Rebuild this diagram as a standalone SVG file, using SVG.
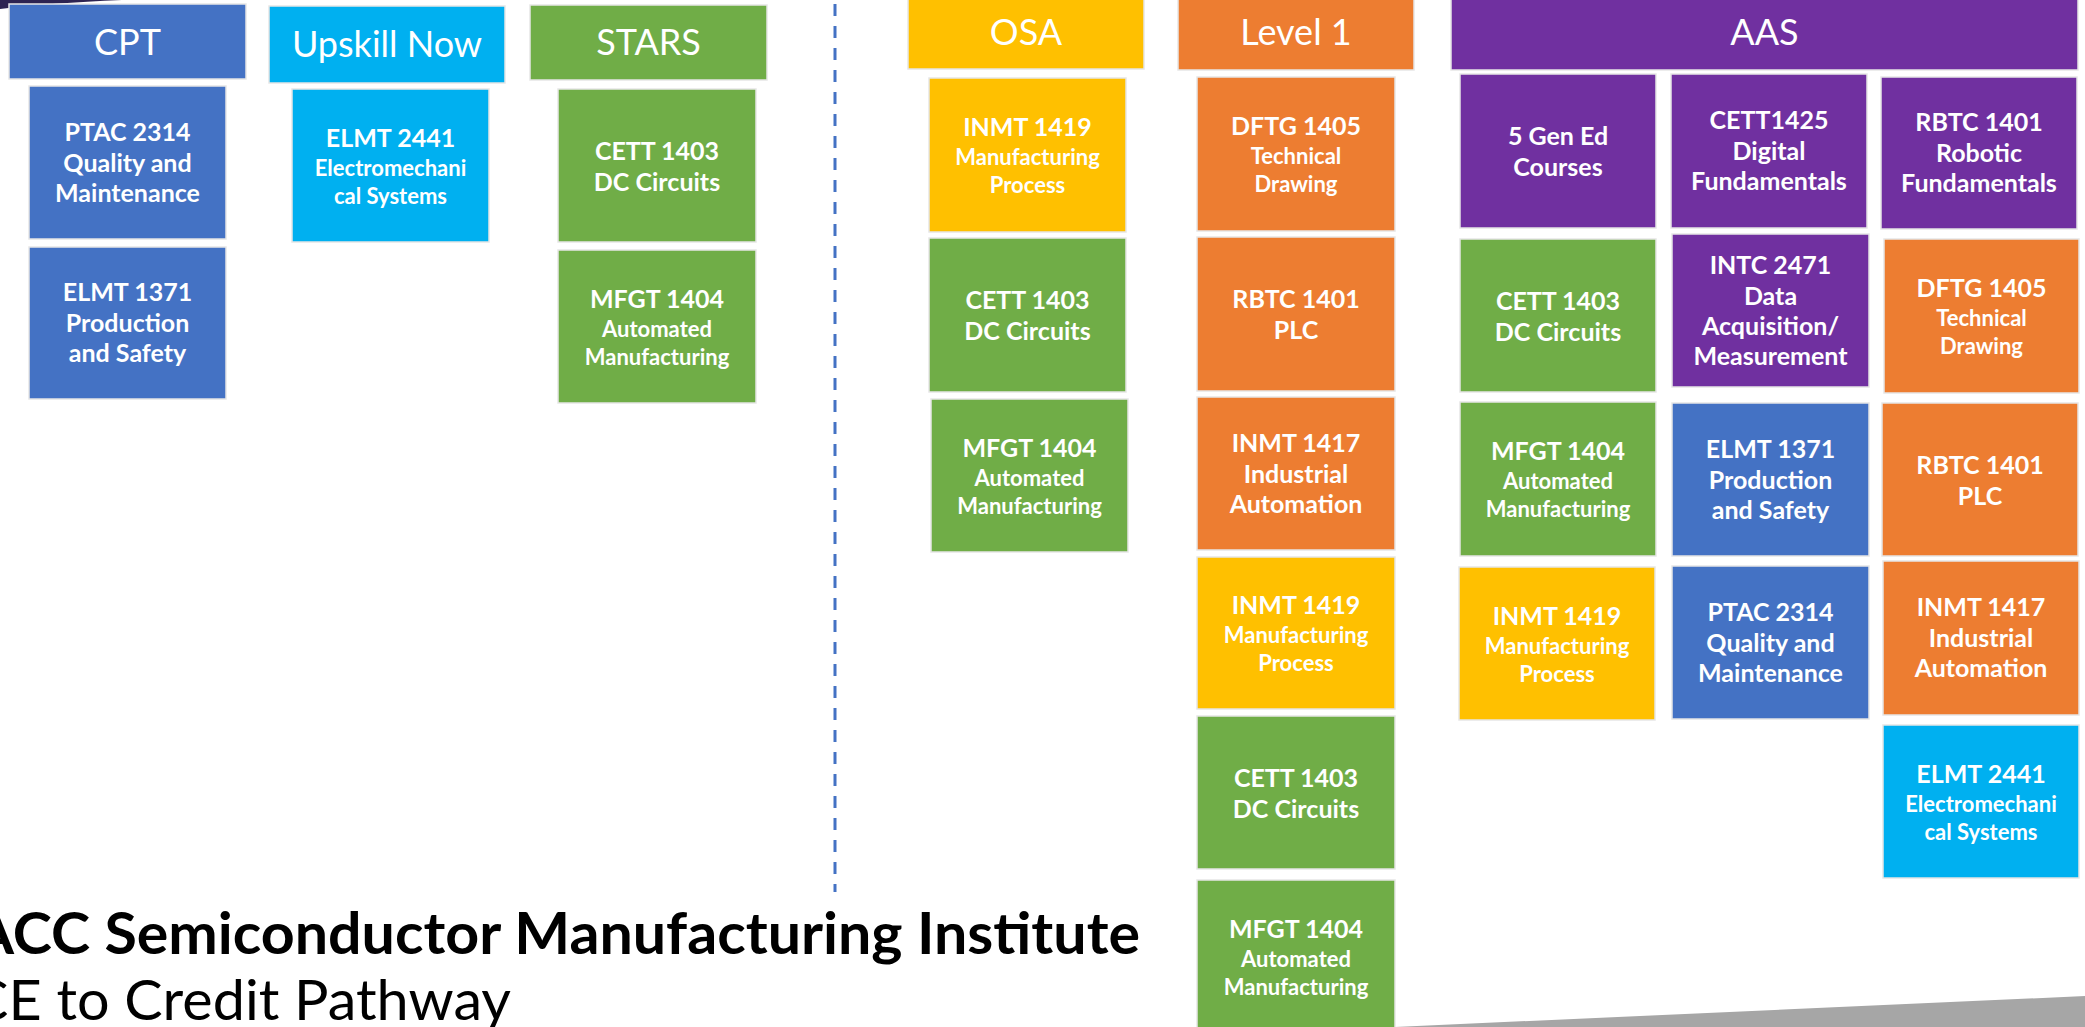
<svg xmlns="http://www.w3.org/2000/svg" width="2085" height="1027" viewBox="0 0 2085 1027">
<style>
rect.box{stroke:#e6e6e6;stroke-width:1.5}
.blue{fill:#4472C4}.cyan{fill:#00B0F0}.green{fill:#70AD47}.yellow{fill:#FFC000}.orange{fill:#ED7D31}.purple{fill:#7030A0}
text{font-family:Lato,"Liberation Sans",sans-serif;fill:#fff;text-anchor:middle}
.b{font-size:25px;font-weight:700}
.s{font-size:22px;font-weight:700}
.h{font-size:36px;font-weight:400}
.title{fill:#000;text-anchor:start}
</style>
<rect x="0" y="0" width="2085" height="1027" fill="#ffffff"/>
<path d="M0,0 L122,0 Q50,3 0,9 Z" fill="#2E2452"/>
<polygon points="1395,1027 2085,996 2085,1027" fill="#A6A6A6"/>
<g id="connectors">
<line x1="835" y1="4" x2="835" y2="892" stroke="#4472C4" stroke-width="3" stroke-dasharray="12 10"/>
</g>
<g id="hdr-cpt"><rect class="box blue" x="9" y="4" width="237" height="75"/><text class="h" x="127.5" y="55">CPT</text></g>
<g id="hdr-upskill"><rect class="box cyan" x="269" y="6" width="236" height="77"/><text class="h" x="387" y="57">Upskill Now</text></g>
<g id="hdr-stars"><rect class="box green" x="530" y="5" width="237" height="75"/><text class="h" x="648.5" y="55">STARS</text></g>
<g id="hdr-osa"><rect class="box yellow" x="908" y="-2" width="236" height="71"/><text class="h" x="1026" y="45">OSA</text></g>
<g id="hdr-level1"><rect class="box orange" x="1178" y="-2" width="236" height="72"/><text class="h" x="1296" y="45">Level 1</text></g>
<g id="hdr-aas"><rect class="box purple" x="1451" y="-2" width="627" height="72"/><text class="h" x="1764.5" y="45">AAS</text></g>

<g id="cpt-ptac"><rect class="box blue" x="29" y="86" width="197" height="153"/><text class="b" x="127.5" y="140.5">PTAC 2314</text><text class="b" x="127.5" y="171.5">Quality and</text><text class="b" x="127.5" y="201.5">Maintenance</text></g>
<g id="cpt-elmt1371"><rect class="box blue" x="29" y="247" width="197" height="152"/><text class="b" x="127.5" y="301">ELMT 1371</text><text class="b" x="127.5" y="332">Production</text><text class="b" x="127.5" y="362">and Safety</text></g>
<g id="up-elmt2441"><rect class="box cyan" x="292" y="89" width="197" height="153"/><text class="b" x="390.5" y="146.5">ELMT 2441</text><text class="s" x="390.5" y="175.5">Electromechani</text><text class="s" x="390.5" y="203.5">cal Systems</text></g>
<g id="stars-cett"><rect class="box green" x="558" y="89" width="198" height="153"/><text class="b" x="657" y="159.5">CETT 1403</text><text class="b" x="657" y="190.5">DC Circuits</text></g>
<g id="stars-mfgt"><rect class="box green" x="558" y="250" width="198" height="153"/><text class="b" x="657" y="307.5">MFGT 1404</text><text class="s" x="657" y="336.5">Automated</text><text class="s" x="657" y="364.5">Manufacturing</text></g>

<g id="osa-inmt1419"><rect class="box yellow" x="929" y="78" width="197" height="154"/><text class="b" x="1027.5" y="136">INMT 1419</text><text class="s" x="1027.5" y="165">Manufacturing</text><text class="s" x="1027.5" y="193">Process</text></g>
<g id="osa-cett"><rect class="box green" x="929" y="238" width="197" height="154"/><text class="b" x="1027.5" y="309">CETT 1403</text><text class="b" x="1027.5" y="340">DC Circuits</text></g>
<g id="osa-mfgt"><rect class="box green" x="931" y="399" width="197" height="153"/><text class="b" x="1029.5" y="456.5">MFGT 1404</text><text class="s" x="1029.5" y="485.5">Automated</text><text class="s" x="1029.5" y="513.5">Manufacturing</text></g>

<g id="l1-dftg"><rect class="box orange" x="1197" y="77" width="198" height="154"/><text class="b" x="1296" y="135">DFTG 1405</text><text class="s" x="1296" y="164">Technical</text><text class="s" x="1296" y="192">Drawing</text></g>
<g id="l1-rbtc"><rect class="box orange" x="1197" y="237" width="198" height="154"/><text class="b" x="1296" y="308">RBTC 1401</text><text class="b" x="1296" y="339">PLC</text></g>
<g id="l1-inmt1417"><rect class="box orange" x="1197" y="397" width="198" height="153"/><text class="b" x="1296" y="451.5">INMT 1417</text><text class="b" x="1296" y="482.5">Industrial</text><text class="b" x="1296" y="512.5">Automation</text></g>
<g id="l1-inmt1419"><rect class="box yellow" x="1197" y="557" width="198" height="152"/><text class="b" x="1296" y="614">INMT 1419</text><text class="s" x="1296" y="643">Manufacturing</text><text class="s" x="1296" y="671">Process</text></g>
<g id="l1-cett"><rect class="box green" x="1197" y="716" width="198" height="153"/><text class="b" x="1296" y="786.5">CETT 1403</text><text class="b" x="1296" y="817.5">DC Circuits</text></g>
<g id="l1-mfgt"><rect class="box green" x="1197" y="880" width="198" height="153"/><text class="b" x="1296" y="937.5">MFGT 1404</text><text class="s" x="1296" y="966.5">Automated</text><text class="s" x="1296" y="994.5">Manufacturing</text></g>

<g id="aas-gened"><rect class="box purple" x="1460" y="74" width="196" height="154"/><text class="b" x="1558" y="145">5 Gen Ed</text><text class="b" x="1558" y="176">Courses</text></g>
<g id="aas-cett1425"><rect class="box purple" x="1671" y="74" width="196" height="154"/><text class="b" x="1769" y="129">CETT1425</text><text class="b" x="1769" y="160">Digital</text><text class="b" x="1769" y="190">Fundamentals</text></g>
<g id="aas-rbtc-robotic"><rect class="box purple" x="1881" y="77" width="196" height="152"/><text class="b" x="1979" y="131">RBTC 1401</text><text class="b" x="1979" y="162">Robotic</text><text class="b" x="1979" y="192">Fundamentals</text></g>
<g id="aas-cett"><rect class="box green" x="1460" y="239" width="196" height="153"/><text class="b" x="1558" y="309.5">CETT 1403</text><text class="b" x="1558" y="340.5">DC Circuits</text></g>
<g id="aas-intc"><rect class="box purple" x="1672" y="234" width="197" height="153"/><text class="b" x="1770.5" y="273.5">INTC 2471</text><text class="b" x="1770.5" y="304.5">Data</text><text class="b" x="1770.5" y="334.5">Acquisition/</text><text class="b" x="1770.5" y="364.5">Measurement</text></g>
<g id="aas-dftg"><rect class="box orange" x="1884" y="239" width="195" height="154"/><text class="b" x="1981.5" y="297">DFTG 1405</text><text class="s" x="1981.5" y="326">Technical</text><text class="s" x="1981.5" y="354">Drawing</text></g>
<g id="aas-mfgt"><rect class="box green" x="1460" y="402" width="196" height="154"/><text class="b" x="1558" y="460">MFGT 1404</text><text class="s" x="1558" y="489">Automated</text><text class="s" x="1558" y="517">Manufacturing</text></g>
<g id="aas-elmt1371"><rect class="box blue" x="1672" y="403" width="197" height="153"/><text class="b" x="1770.5" y="457.5">ELMT 1371</text><text class="b" x="1770.5" y="488.5">Production</text><text class="b" x="1770.5" y="518.5">and Safety</text></g>
<g id="aas-rbtc-plc"><rect class="box orange" x="1882" y="403" width="196" height="153"/><text class="b" x="1980" y="473.5">RBTC 1401</text><text class="b" x="1980" y="504.5">PLC</text></g>
<g id="aas-inmt1419"><rect class="box yellow" x="1459" y="567" width="196" height="153"/><text class="b" x="1557" y="624.5">INMT 1419</text><text class="s" x="1557" y="653.5">Manufacturing</text><text class="s" x="1557" y="681.5">Process</text></g>
<g id="aas-ptac"><rect class="box blue" x="1672" y="566" width="197" height="153"/><text class="b" x="1770.5" y="620.5">PTAC 2314</text><text class="b" x="1770.5" y="651.5">Quality and</text><text class="b" x="1770.5" y="681.5">Maintenance</text></g>
<g id="aas-inmt1417"><rect class="box orange" x="1883" y="561" width="196" height="154"/><text class="b" x="1981" y="616">INMT 1417</text><text class="b" x="1981" y="647">Industrial</text><text class="b" x="1981" y="677">Automation</text></g>
<g id="aas-elmt2441"><rect class="box cyan" x="1883" y="725" width="196" height="153"/><text class="b" x="1981" y="782.5">ELMT 2441</text><text class="s" x="1981" y="811.5">Electromechani</text><text class="s" x="1981" y="839.5">cal Systems</text></g>

<g id="title">
<text class="title" x="-27" y="954" font-size="57" font-weight="700" textLength="1167" lengthAdjust="spacingAndGlyphs">ACC Semiconductor Manufacturing Institute</text>
<text class="title" x="-30" y="1020" font-size="56" font-weight="400" textLength="541" lengthAdjust="spacingAndGlyphs">CE to Credit Pathway</text>
</g>
</svg>
